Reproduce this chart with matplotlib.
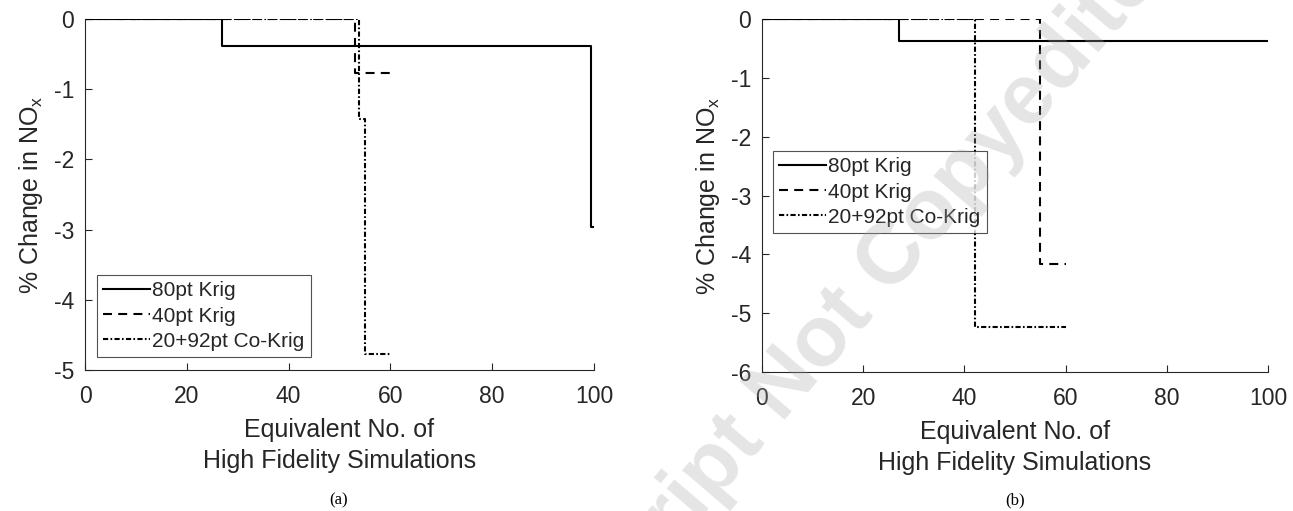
import numpy as np
import matplotlib
matplotlib.use('Agg')
import matplotlib.pyplot as plt

plt.rcParams['font.family'] = ['Liberation Sans', 'DejaVu Sans']
plt.rcParams['mathtext.default'] = 'regular'
plt.rcParams['axes.unicode_minus'] = False

# panel (a): step curves
a_krig80_x = [0, 27, 27, 99.4, 99.4, 100]
a_krig80_y = [0, 0, -0.38, -0.38, -2.96, -2.96]
a_krig40_x = [0, 53, 53, 60]
a_krig40_y = [0, 0, -0.77, -0.77]
a_cokrig_x = [0, 53.8, 53.8, 55, 55, 60]
a_cokrig_y = [0, 0, -1.42, -1.42, -4.77, -4.77]

# panel (b)
b_krig80_x = [0, 27, 27, 100]
b_krig80_y = [0, 0, -0.37, -0.37]
b_krig40_x = [0, 55, 55, 60]
b_krig40_y = [0, 0, -4.16, -4.16]
b_cokrig_x = [0, 42, 42, 60]
b_cokrig_y = [0, 0, -5.23, -5.23]

labels = ['80pt Krig', '40pt Krig', '20+92pt Co-Krig']
xticks = [0, 20, 40, 60, 80, 100]

W, H = 1293, 511
fig = plt.figure(figsize=(W / 100, H / 100), dpi=100)

ax1 = fig.add_axes([85 / W, 1 - 370 / H, 509 / W, 351 / H])
ax2 = fig.add_axes([762 / W, 1 - 372 / H, 506 / W, 353 / H])

ink = '#262626'
lw = 1.5
dash40 = (0, (4.3, 3))
dashco = (0, (2.5, 1.1, 0.8, 1.1))

for ax, data, ylo, yt in [
        (ax1, [(a_krig80_x, a_krig80_y), (a_krig40_x, a_krig40_y), (a_cokrig_x, a_cokrig_y)], -5, range(-5, 1)),
        (ax2, [(b_krig80_x, b_krig80_y), (b_krig40_x, b_krig40_y), (b_cokrig_x, b_cokrig_y)], -6, range(-6, 1))]:
    ax.patch.set_alpha(0)
    ax.plot(data[0][0], data[0][1], color='black', lw=lw, ls='-', label=labels[0])
    ax.plot(data[1][0], data[1][1], color='black', lw=lw, ls=dash40, label=labels[1])
    ax.plot(data[2][0], data[2][1], color='black', lw=lw, ls=dashco, label=labels[2])
    ax.set_xlim(0, 100)
    ax.set_ylim(ylo, 0)
    ax.set_xticks(xticks)
    ax.set_yticks(list(yt))
    ax.spines['top'].set_visible(False)
    ax.spines['right'].set_visible(False)
    for s in ['left', 'bottom']:
        ax.spines[s].set_color(ink)
        ax.spines[s].set_linewidth(0.8)
    ax.tick_params(direction='in', length=5, width=0.8, colors=ink, labelsize=16.5)
    ax.tick_params(axis='x', pad=11)
    ax.tick_params(axis='y', pad=8)
    ax.set_xlabel('Equivalent No. of\nHigh Fidelity Simulations', fontsize=18, color=ink,
                  linespacing=1.38, labelpad=7)
    ax.set_ylabel('% Change in NO$_x$', fontsize=18, color=ink, labelpad=6)

leg_kw = dict(fontsize=15, frameon=True, fancybox=False, borderaxespad=0,
              handlelength=2.25, handletextpad=0.1, labelspacing=0.3, borderpad=0.3,
              edgecolor=ink)
l1 = ax1.legend(loc='lower left', bbox_to_anchor=(0.024, 0.037), **leg_kw)
l2 = ax2.legend(loc='upper left', bbox_to_anchor=(0.022, 0.626), **leg_kw)
for l in (l1, l2):
    l.get_frame().set_linewidth(0.8)
    for t in l.get_texts():
        t.set_color(ink)

fig.text(339 / W, 1 - 500 / H, '(a)', fontsize=12, family='Liberation Serif', ha='center', va='center')
fig.text(1015 / W, 1 - 500 / H, '(b)', fontsize=12, family='Liberation Serif', ha='center', va='center')

# faint watermark laid over the page
fig.text(1195 / W, 1 + 60 / H, 'Accepted Manuscript Not Copyedited', fontsize=62,
         fontweight='bold', color='#a8a8a8', alpha=0.3, rotation=49.5, ha='right',
         va='baseline', rotation_mode='anchor', zorder=10)

fig.savefig('out.png', dpi=100)
